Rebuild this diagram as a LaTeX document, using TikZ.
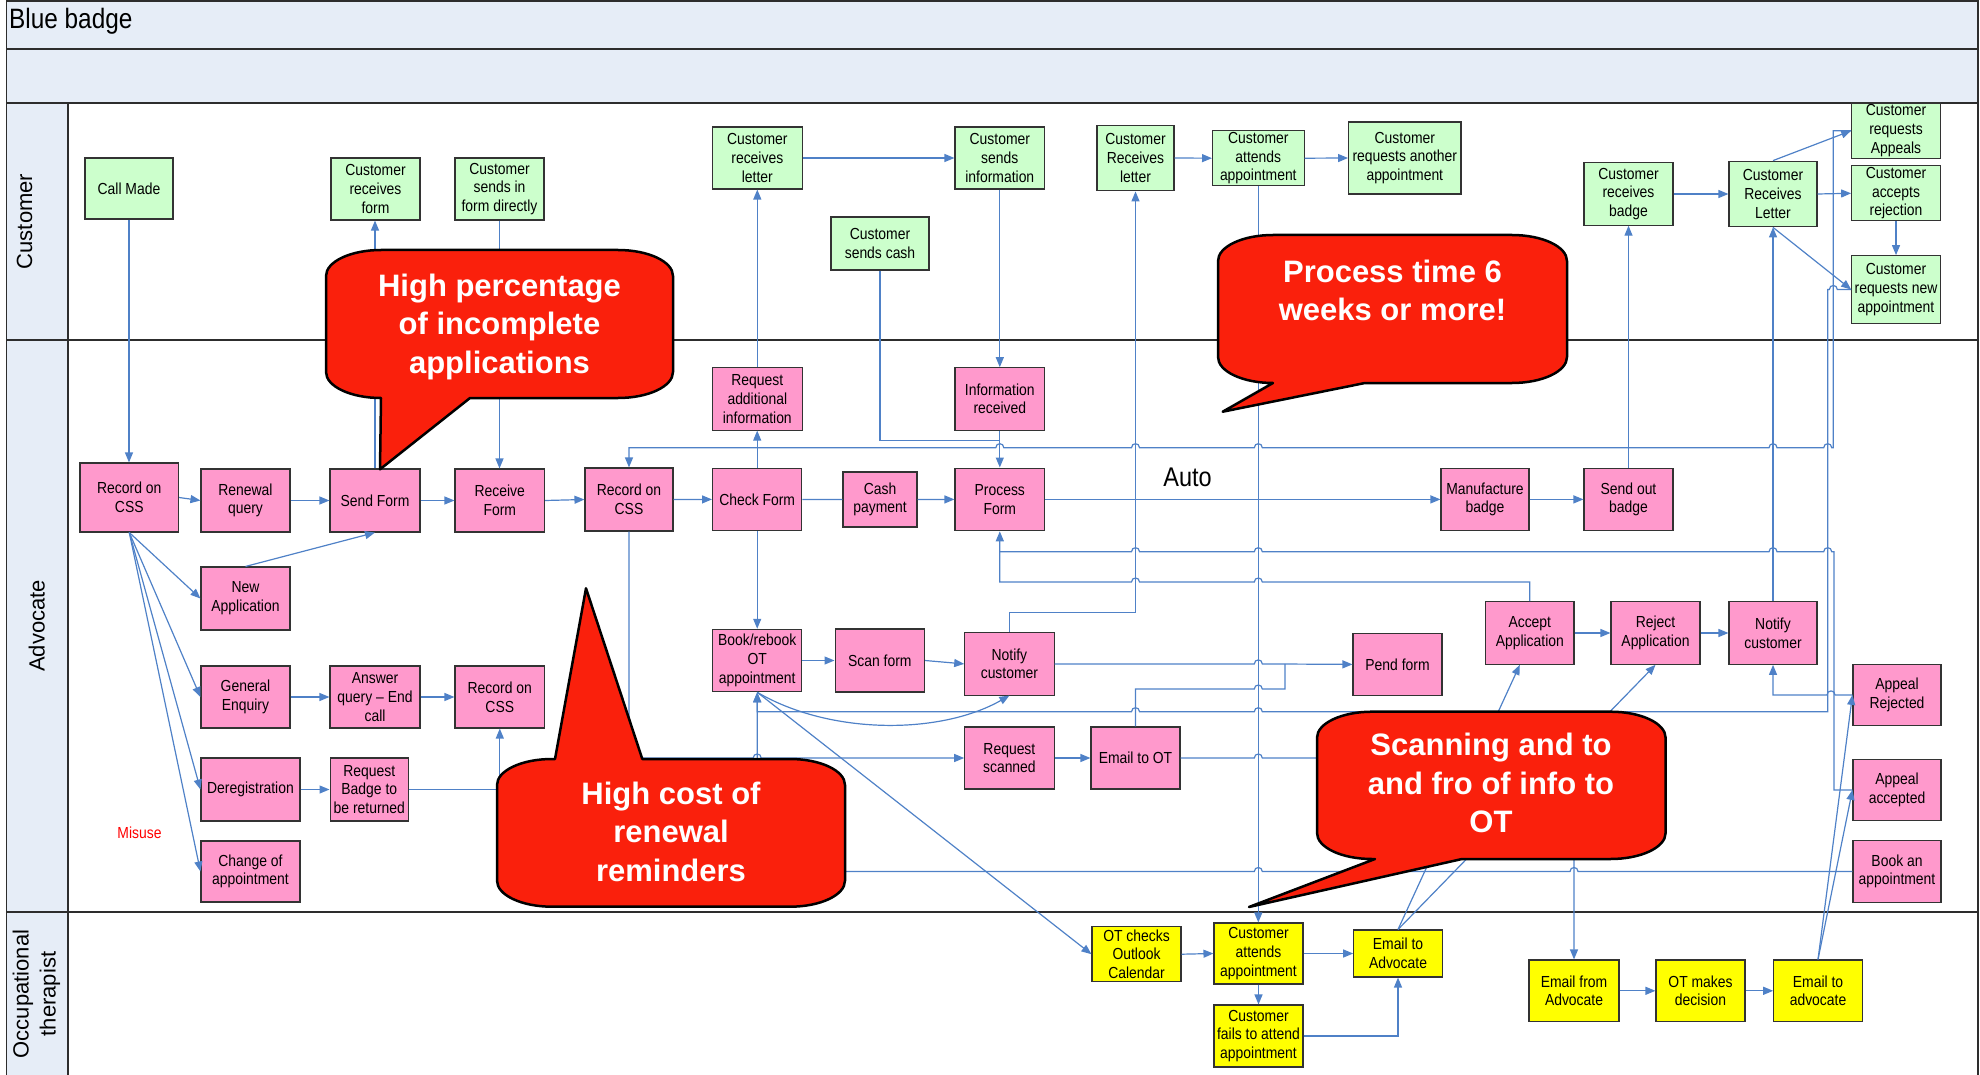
\documentclass[tikz,border=0pt]{standalone}
\usepackage{fontspec}
\setmainfont{Liberation Sans}
\newfontfamily\narrowfont[FakeStretch=0.87]{Liberation Sans}
\usetikzlibrary{arrows.meta}

\definecolor{lanebg}{RGB}{230,237,247}
\definecolor{flow}{RGB}{79,129,199}
\definecolor{custfill}{RGB}{204,255,204}
\definecolor{advfill}{RGB}{255,153,204}
\definecolor{otfill}{RGB}{255,255,0}
\definecolor{bubblered}{RGB}{250,32,12}
\definecolor{frameline}{RGB}{45,45,45}

% line jumps on horizontal connectors (rightward / leftward travel)
\newcommand\hopR[2]{-- (#1-4,#2) .. controls (#1-4,#2-5.3) and (#1+4,#2-5.3) .. (#1+4,#2)}
\newcommand\hopL[2]{-- (#1+4,#2) .. controls (#1+4,#2-5.3) and (#1-4,#2-5.3) .. (#1-4,#2)}

\begin{document}
\begin{tikzpicture}[x=1pt,y=-1pt,
  sz/.style 2 args={minimum width=#1pt, minimum height=#2pt},
  box/.style={draw=black!80, line width=1.1pt, inner sep=0pt, align=center,
              font=\narrowfont\fontsize{16}{18.7}\selectfont},
  cust/.style={box, fill=custfill},
  adv/.style={box, fill=advfill},
  ot/.style={box, fill=otfill},
  flowline/.style={draw=flow, line width=1.2pt},
  arr/.style={flowline, -{Triangle[length=10pt,width=8pt]}},
  frame/.style={draw=frameline, line width=1.6pt},
  bubble/.style={fill=bubblered, draw=black, line width=2.5pt, line join=round},
  bubbletext/.style={text=white, align=center, inner sep=0pt,
              font=\bfseries\fontsize{31}{38.5}\selectfont},
  lanelabel/.style={rotate=90, align=center, inner sep=0pt,
              font=\fontsize{22}{27}\selectfont}]

\useasboundingbox (0,0) rectangle (1980,1075);

% ---------- swimlane frame ----------
\fill[lanebg] (6.5,0) rectangle (1978,103);
\fill[lanebg] (6.5,103) rectangle (68,1075);
\draw[frame] (6.5,0.8) -- (1978,0.8);
\draw[frame] (6.5,49) -- (1978,49);
\draw[frame] (6.5,103) -- (1978,103);
\draw[frame] (6.5,340) -- (1978,340);
\draw[frame] (6.5,912) -- (1978,912);
\draw[frame] (6.5,0) -- (6.5,1075);
\draw[frame] (68,103) -- (68,1075);
\draw[frame] (1978,0) -- (1978,1075);

\node[anchor=west, inner sep=0pt, font=\narrowfont\fontsize{28}{30}\selectfont] (title) at (9,21) {Blue badge};
\node[lanelabel] (lanecust) at (24.5,221.5) {Customer};
\node[lanelabel] (laneadv) at (36.8,626) {Advocate};
\node[lanelabel] (laneot) at (36.5,994) {Occupational\\therapist};

% ---------- Customer lane ----------
\node[cust, sz={88}{61}] (callmade) at (129,188.5) {Call Made};
\node[cust, sz={89}{62}] (custform) at (375.5,189) {Customer\\receives\\form};
\node[cust, sz={89}{62}] (sendsin) at (499.5,189) {Customer\\sends in\\form directly};
\node[cust, sz={89.5}{62}] (custletter) at (757.3,158) {Customer\\receives\\letter};
\node[cust, sz={89.6}{62}] (sendsinfo) at (999.8,158) {Customer\\sends\\information};
\node[cust, sz={98}{53}] (sendcash) at (880,243.5) {Customer\\sends cash};
\node[cust, sz={77}{65.7}] (custrecv) at (1135.5,158) {Customer\\Receives\\letter};
\node[cust, sz={91.5}{55}] (custattend) at (1258.3,158.2) {Customer\\attends\\appointment};
\node[cust, sz={112.4}{72}] (anotherappt) at (1404.8,158) {Customer\\requests another\\appointment};
\node[cust, sz={89}{62.3}] (recvbadge) at (1628.5,194) {Customer\\receives\\badge};
\node[cust, sz={88}{65.7}] (custletter2) at (1773,194) {Customer\\Receives\\Letter};
\node[cust, sz={88.6}{55.3}] (appeals) at (1896,130.7) {Customer\\requests\\Appeals};
\node[cust, sz={88.6}{54.7}] (accrej) at (1896,193.3) {Customer\\accepts\\rejection};
\node[cust, sz={88.6}{67.7}] (newappt) at (1896,289.5) {Customer\\requests new\\appointment};

% ---------- Advocate lane ----------
\node[adv, sz={98.6}{69}] (rec1) at (129.3,497.5) {Record on\\CSS};
\node[adv, sz={89}{63}] (renew) at (245.5,500.5) {Renewal\\query};
\node[adv, sz={90}{63}] (sendform) at (375,500.5) {Send Form};
\node[adv, sz={89.6}{63}] (recvform) at (499.8,500.5) {Receive\\Form};
\node[adv, sz={88}{63}] (rec2) at (629,499.5) {Record on\\CSS};
\node[adv, sz={89.5}{62.3}] (reqinfo) at (757.3,398.9) {Request\\additional\\information};
\node[adv, sz={89.6}{62.3}] (inforecv) at (999.8,398.9) {Information\\received};
\node[adv, sz={89.3}{62.7}] (check) at (757.2,499.4) {Check Form};
\node[adv, sz={74}{55}] (cash) at (880,499.5) {Cash\\payment};
\node[adv, sz={89.6}{62.7}] (process) at (999.8,499.4) {Process\\Form};
\node[adv, sz={88}{62.7}] (manuf) at (1485,499.4) {Manufacture\\badge};
\node[adv, sz={89}{62.7}] (sendout) at (1628.5,499.4) {Send out\\badge};
\node[adv, sz={89}{63}] (newapp) at (245.5,598.5) {New\\Application};
\node[adv, sz={89}{62}] (general) at (245.5,697) {General\\Enquiry};
\node[adv, sz={90}{62}] (answer) at (375,697) {Answer\\query – End\\call};
\node[adv, sz={89.6}{62}] (rec3) at (499.8,697) {Record on\\CSS};
\node[adv, sz={99}{63}] (dereg) at (250.5,789.5) {Deregistration};
\node[adv, sz={78.5}{63}] (reqbadge) at (369.3,789.5) {Request\\Badge to\\be returned};
\node[adv, sz={99}{61}] (change) at (250.5,871.5) {Change of\\appointment};
\node[adv, sz={89}{62.4}] (book) at (757.2,660.5) {Book/rebook\\OT\\appointment};
\node[adv, sz={89.5}{63}] (scan) at (879.8,660.5) {Scan form};
\node[adv, sz={89.3}{62.3}] (notify1) at (1009.4,663.9) {Notify\\customer};
\node[adv, sz={89.3}{62}] (reqscan) at (1009.4,758) {Request\\scanned};
\node[adv, sz={89}{62}] (emailot) at (1135.5,758) {Email to OT};
\node[adv, sz={89}{62.7}] (pend) at (1397.5,664.4) {Pend form};
\node[adv, sz={88.4}{62.6}] (accept) at (1529.8,633) {Accept\\Application};
\node[adv, sz={89}{62.6}] (reject) at (1655.5,633) {Reject\\Application};
\node[adv, sz={88}{62.6}] (notify2) at (1773,633) {Notify\\customer};
\node[adv, sz={88}{61.7}] (aprej) at (1897,694.9) {Appeal\\Rejected};
\node[adv, sz={88}{61.7}] (apacc) at (1897,789.9) {Appeal\\accepted};
\node[adv, sz={88}{61.6}] (bookappt) at (1897,871.5) {Book an\\appointment};

\node[text=red, inner sep=0pt, font=\narrowfont\fontsize{16}{18}\selectfont] (misuse) at (139.5,833) {Misuse};
\node[inner sep=0pt, font=\narrowfont\fontsize{27}{30}\selectfont] (auto) at (1187.5,477) {Auto};

% ---------- Occupational therapist lane ----------
\node[ot, sz={89}{55}] (otcheck) at (1136.5,954.2) {OT checks\\Outlook\\Calendar};
\node[ot, sz={89}{61}] (otattend) at (1258.5,953.5) {Customer\\attends\\appointment};
\node[ot, sz={88.5}{47}] (emailadv) at (1398,953.5) {Email to\\Advocate};
\node[ot, sz={89}{62}] (otfail) at (1258.5,1036) {Customer\\fails to attend\\appointment};
\node[ot, sz={90}{61.7}] (emailfrom) at (1574,990.8) {Email from\\Advocate};
\node[ot, sz={89}{61.7}] (otdec) at (1700.5,990.8) {OT makes\\decision};
\node[ot, sz={88.5}{61.7}] (emailadv2) at (1818,990.8) {Email to\\advocate};

% join points on shared connector runs
\coordinate (cashjoin) at (999.8,440.7);
\coordinate (pendjoin) at (1285,663.9);
\coordinate (procjoin) at (999.8,551.7);

% ---------- connectors ----------
% enquiry intake
\draw[arr] (callmade.south) -- (callmade.south |- rec1.north);
\draw[arr] (rec1.east) -- (renew.west);
\draw[arr] (rec1.south) -- (newapp.west);
\draw[arr] (rec1.south) -- (general.west);
\draw[arr] (rec1.south) -- (dereg.west);
\draw[arr] (rec1.south) -- (change.west);
\draw[arr] (renew.east) -- (sendform.west);
\draw[arr] (newapp.north) -- (sendform.south);
\draw[arr] (sendform.north) -- (sendform.north |- custform.south);
\draw[arr] (sendform.east) -- (recvform.west);
\draw[arr] (sendsin.south) -- (sendsin.south |- recvform.north);
\draw[arr] (recvform.east) -- (rec2.west);
\draw[arr] (rec2.east) -- (check.west);
\draw[arr] (general.east) -- (answer.west);
\draw[arr] (answer.east) -- (rec3.west);
\draw[arr] (dereg.east) -- (reqbadge.west);
\draw[arr] (reqbadge.east) -| (rec3.south);

% form checking and payment
\draw[flowline] (check.east) -- (cash.west);
\draw[arr] (cash.east) -- (process.west);
\draw[arr] (check.north) -- (check.north |- reqinfo.south);
\draw[arr] (reqinfo.north) -- (reqinfo.north |- custletter.south);
\draw[arr] (custletter.east) -- (custletter.east -| sendsinfo.west);
\draw[arr] (sendsinfo.south) -- (sendsinfo.south |- inforecv.north);
\draw[arr] (inforecv.south) -- (inforecv.south |- process.north);
\draw[flowline] (sendcash.south) |- (cashjoin);
\draw[arr] (process.east) -- (manuf.west);
\draw[arr] (manuf.east) -- (sendout.west);
\draw[arr] (sendout.north) -- (sendout.north |- recvbadge.south);

% appeals back to the record
\draw[arr] (appeals.west) -- (1833.3,130.7) -- (1833.3,447.7)
  \hopL{1827.7}{447.7} \hopL{1773}{447.7} \hopL{1258.3}{447.7}
  \hopL{1135.5}{447.7} \hopL{999.8}{447.7} -- (629,447.7) -- (rec2.north);

% customer letters and appointments
\draw[arr] (custrecv.east) -- (custattend.west);
\draw[arr] (custattend.east) -- (anotherappt.west);
\draw[arr] (custattend.south) -- (custattend.south |- otattend.north);
\draw[arr] (recvbadge.east) -- (custletter2.west);
\draw[arr] (custletter2.east) -- (accrej.west);
\draw[arr] (custletter2.north) -- (appeals.west);
\draw[arr] (custletter2.south) -- (newappt.west);
\draw[arr] (accrej.south) -- (newappt.north);

% rebooking
\draw[arr] (newappt.west) \hopL{1833.3}{289.5} -- (1827.7,289.5) -- (1827.7,711.7)
  \hopL{1258.3}{711.7} \hopL{1135.5}{711.7} -- (757.2,711.7) -- (book.south);
\draw[arr] (bookappt.west) \hopL{1574}{871.5} \hopL{1258.3}{871.5}
  -- (757.2,871.5) -- (book.south);
\draw[arr] (check.south) -- (check.south |- book.north);
\draw[arr] (book.east) -- (scan.west);
\draw[arr] (scan.east) -- (notify1.west);
\draw[arr] (book.south) .. controls (830,735) and (940,735) .. (notify1.south);
\draw[arr] (book.south) -- (otcheck.west);
\draw[arr] (notify1.north) -- (1009.4,612.3) -- (1135.5,612.3) -- (custrecv.south);
\draw[arr] (notify1.east) \hopR{1258.3}{663.9} -- (pend.west);

% scanning requests
\draw[arr] (rec2.south) -- (629,758) \hopR{757.2}{758} -- (reqscan.west);
\draw[arr] (reqscan.east) -- (emailot.west);
\draw[flowline] (emailot.north) -- (1135.5,689) \hopR{1258.3}{689} -- (1285,689) -- (pendjoin);
\draw[arr] (emailot.east) \hopR{1258.3}{758} -- (1574,758) -- (emailfrom.north);

% decisions back to processing
\draw[flowline] (accept.north) -- (1529.8,582) \hopL{1258.3}{582} \hopL{1135.5}{582}
  -- (999.8,582) -- (procjoin);
\draw[arr] (apacc.west) -- (1834,789.9) -- (1834,551.7)
  \hopL{1827.7}{551.7} \hopL{1773}{551.7} \hopL{1258.3}{551.7} \hopL{1135.5}{551.7}
  -- (999.8,551.7) -- (process.south);
\draw[arr] (accept.east) -- (reject.west);
\draw[arr] (reject.east) -- (notify2.west);
\draw[arr] (notify2.north) -- (notify2.north |- custletter2.south);
\draw[arr] (aprej.west) \hopL{1831}{694.9} -- (1773,694.9) -- (notify2.south);

% occupational therapist
\draw[arr] (otcheck.east) -- (otattend.west);
\draw[arr] (otattend.east) -- (emailadv.west);
\draw[arr] (otattend.south) -- (otfail.north);
\draw[arr] (otfail.east) -| (emailadv.south);
\draw[arr] (emailadv.north) -- ([xshift=-10pt]accept.south);
\draw[arr] (emailadv.north) -- (reject.south);
\draw[arr] (emailfrom.east) -- (otdec.west);
\draw[arr] (otdec.east) -- (emailadv2.west);
\draw[arr] (emailadv2.north) -- (aprej.west);
\draw[arr] (emailadv2.north) -- (apacc.west);

% ---------- call-out bubbles ----------
\draw[bubble] (381,250) -- (618,250) .. controls (648.4,250) and (673,261.6) .. (673,276)
  -- (673,372) .. controls (673,386.4) and (648.4,398) .. (618,398)
  -- (470,398) -- (380,469.3) -- (381,398)
  .. controls (350.6,398) and (326,386.4) .. (326,372)
  -- (326,276) .. controls (326,261.6) and (350.6,250) .. (381,250) -- cycle;
\node[bubbletext] (note1) at (499.5,326.5) {High percentage\\of incomplete\\applications};

\draw[bubble] (1273,235) -- (1512,235) .. controls (1542.4,235) and (1567,246.6) .. (1567,261)
  -- (1567,357) .. controls (1567,371.4) and (1542.4,383) .. (1512,383)
  -- (1365,383) -- (1222.7,411.7) -- (1273,383)
  .. controls (1242.6,383) and (1218,371.4) .. (1218,357)
  -- (1218,261) .. controls (1218,246.6) and (1242.6,235) .. (1273,235) -- cycle;
\node[bubbletext] (note2) at (1392.5,290.5) {Process time 6\\weeks or more!};

\draw[bubble] (552,759) -- (555,759) -- (586,588.3) -- (642.3,759)
  -- (790,759) .. controls (820.4,759) and (845,770.6) .. (845,785)
  -- (845,880.7) .. controls (845,895.1) and (820.4,906.7) .. (790,906.7)
  -- (552,906.7) .. controls (521.6,906.7) and (497,895.1) .. (497,880.7)
  -- (497,785) .. controls (497,770.6) and (521.6,759) .. (552,759) -- cycle;
\node[bubbletext] (note3) at (671,831.5) {High cost of\\renewal\\reminders};

\draw[bubble] (1372,711.7) -- (1610.6,711.7) .. controls (1641,711.7) and (1665.6,723.3) .. (1665.6,737.7)
  -- (1665.6,833) .. controls (1665.6,847.4) and (1641,859) .. (1610.6,859)
  -- (1462,859) -- (1249,907) -- (1375,859) -- (1372,859)
  .. controls (1341.6,859) and (1317,847.4) .. (1317,833)
  -- (1317,737.7) .. controls (1317,723.3) and (1341.6,711.7) .. (1372,711.7) -- cycle;
\node[bubbletext] (note4) at (1491,783) {Scanning and to\\and fro of info to\\OT};

\end{tikzpicture}
\end{document}
